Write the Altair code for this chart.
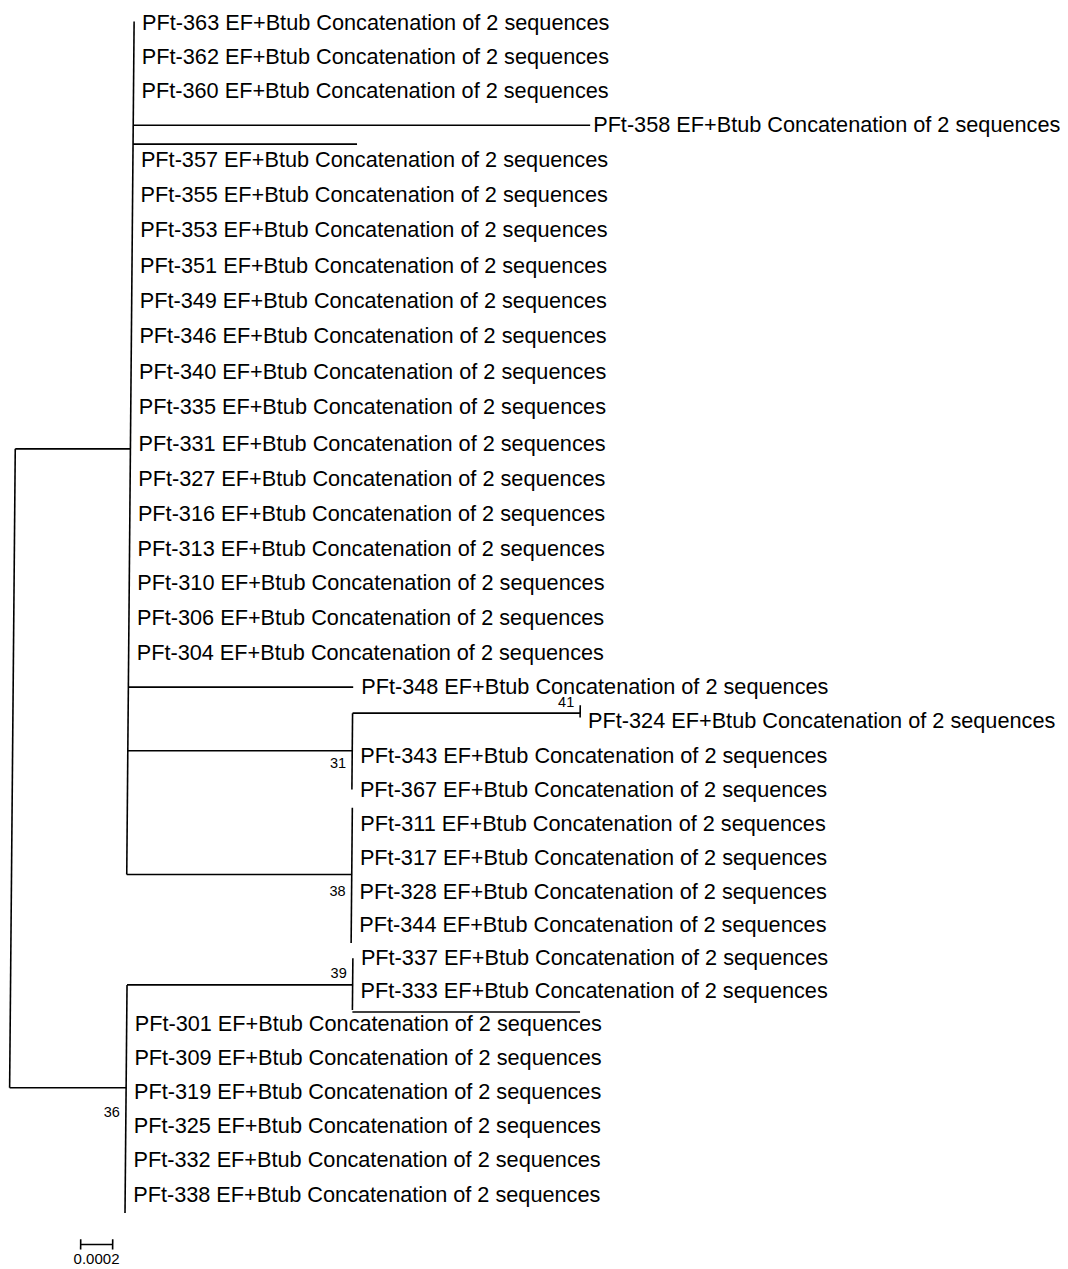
import altair as alt
import pandas as pd

# ---------------- data ----------------
taxa = ["PFt-363", "PFt-362", "PFt-360", "PFt-358", "PFt-357", "PFt-355", "PFt-353",
        "PFt-351", "PFt-349", "PFt-346", "PFt-340", "PFt-335", "PFt-331", "PFt-327",
        "PFt-316", "PFt-313", "PFt-310", "PFt-306", "PFt-304", "PFt-348", "PFt-324",
        "PFt-343", "PFt-367", "PFt-311", "PFt-317", "PFt-328", "PFt-344", "PFt-337",
        "PFt-333", "PFt-301", "PFt-309", "PFt-319", "PFt-325", "PFt-332", "PFt-338"]
label_suffix = " EF+Btub Concatenation of 2 sequences"
# node at which each taxon label starts
taxon_node = (["A"] * 3 + ["t358"] + ["A"] * 15 + ["t348", "n41", "n31", "n31"]
              + ["n38"] * 4 + ["n39"] * 2 + ["B"] * 6)

# tree nodes: parent and branch length (substitutions / site)
nodes = ["A", "B", "t358", "t348", "n31", "n41", "n38", "n39", "x1", "x2"]
parents = ["root", "root", "A", "A", "A", "n31", "A", "B", "A", "n39"]
branch_len = [0.00072, 0.000728, 0.002856, 0.001405, 0.0014025, 0.0014225,
              0.00140625, 0.00141, 0.0014, 0.001423]
# row at which each branch is drawn
branch_row = [12.14, 30.88, 3.0, 19.0, 20.86, 19.76, 24.5, 27.83, 3.55, 28.65]

# vertical connectors of internal nodes (row span)
vert_nodes = ["root", "A", "B", "n31", "n41", "n38", "n39"]
vert_top = [12.14, -0.03, 27.83, 19.76, 19.53, 22.54, 27.02]
vert_bottom = [30.88, 24.5, 34.54, 22.0, 19.89, 26.56, 28.59]

# bootstrap values
boot_nodes = ["n41", "n31", "n38", "n39", "B"]
boot_vals = ["41", "31", "38", "39", "36"]
boot_row = [19.45, 21.25, 25.0, 27.5, 31.62]

# scale bar
bar_start = 0.0004525
bar_len = 0.0002
bar_row = 35.46
bar_label = "0.0002"

# slight tilt of the scanned figure (distance units per row)
tilt = 1.875e-6
tilt_ref_row = 17

# ---------------- build tables ----------------
dist = {"root": 0.0}
pending = list(zip(nodes, parents, branch_len))
while pending:
    rest = []
    for n, p, b in pending:
        if p in dist:
            dist[n] = dist[p] + b
        else:
            rest.append((n, p, b))
    pending = rest


def shear(x, r):
    return x - tilt * (r - tilt_ref_row)


segs = []
for n, p, r in zip(nodes, parents, branch_row):
    segs.append({"x1": shear(dist[p], r), "x2": shear(dist[n], r), "y1": r, "y2": r})
for n, t, b in zip(vert_nodes, vert_top, vert_bottom):
    segs.append({"x1": shear(dist[n], t), "x2": shear(dist[n], b), "y1": t, "y2": b})
# scale bar and its end ticks
segs.append({"x1": shear(bar_start, bar_row), "x2": shear(bar_start + bar_len, bar_row),
             "y1": bar_row, "y2": bar_row})
for bx in (bar_start, bar_start + bar_len):
    segs.append({"x1": shear(bx, bar_row - 0.15), "x2": shear(bx, bar_row + 0.15),
                 "y1": bar_row - 0.15, "y2": bar_row + 0.15})
seg_df = pd.DataFrame(segs)

leaf_df = pd.DataFrame({
    "label": [t + label_suffix for t in taxa],
    "row": list(range(len(taxa))),
    "node": taxon_node,
})
leaf_df["x"] = [shear(dist[n], r) for n, r in zip(taxon_node, leaf_df["row"])]
tight_df = leaf_df[leaf_df["node"] == "t358"]      # label set close to its branch tip
leaf_df = leaf_df[leaf_df["node"] != "t358"]

boot_df = pd.DataFrame({"val": boot_vals, "row": boot_row})
boot_df["x"] = [shear(dist[n], r) for n, r in zip(boot_nodes, boot_row)]

bar_df = pd.DataFrame({"val": [bar_label], "row": [bar_row + 0.44],
                       "x": [shear(bar_start + bar_len / 2, bar_row + 0.44)]})

# ---------------- scales ----------------
W, H = 1052, 1261
PX_PER_UNIT = 160000          # 0.0002 -> 32 px in the reference
X0 = 5.8                      # root offset inside the plot
xscale = alt.Scale(domain=[-X0 / PX_PER_UNIT, (W - X0) / PX_PER_UNIT], nice=False, zero=False)
yscale = alt.Scale(domain=[0, 4, 11, 12, 18, 21, 25, 29, 34],
                   range=[14.5, 151.5, 399, 436, 645, 747.5, 883.5, 1015.5, 1186.5],
                   nice=False, zero=False)

FONT = "Liberation Sans"

rules = alt.Chart(seg_df).mark_rule(color="black", strokeWidth=1.6).encode(
    x=alt.X("x1:Q", scale=xscale, axis=None),
    x2="x2:Q",
    y=alt.Y("y1:Q", scale=yscale, axis=None),
    y2="y2:Q",
)


def leaf_text(df, gap):
    return alt.Chart(df).mark_text(
        align="left", baseline="middle", dx=gap, font=FONT, fontSize=21.7, color="black"
    ).encode(
        x=alt.X("x:Q", scale=xscale, axis=None),
        y=alt.Y("row:Q", scale=yscale, axis=None),
        text="label:N",
    )


labels = leaf_text(leaf_df, 8)
labels_tight = leaf_text(tight_df, 3)

boots = alt.Chart(boot_df).mark_text(
    align="right", baseline="middle", dx=-6, font=FONT, fontSize=14.5, color="black"
).encode(
    x=alt.X("x:Q", scale=xscale, axis=None),
    y=alt.Y("row:Q", scale=yscale, axis=None),
    text="val:N",
)

barlab = alt.Chart(bar_df).mark_text(
    align="center", baseline="middle", font=FONT, fontSize=15, color="black"
).encode(
    x=alt.X("x:Q", scale=xscale, axis=None),
    y=alt.Y("row:Q", scale=yscale, axis=None),
    text="val:N",
)

chart = alt.layer(rules, labels, labels_tight, boots, barlab).properties(
    width=W, height=H, padding=0, autosize="none", background="white"
).configure_view(stroke=None)

chart.save("out.html", embed_options={"renderer": "svg", "actions": False})
